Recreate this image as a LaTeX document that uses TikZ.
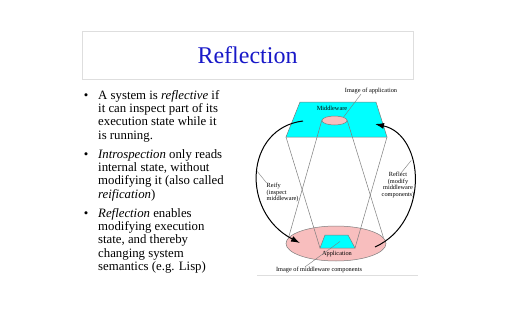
\documentclass[tikz,border=0pt]{standalone}
\usepackage{fontspec}
\setmainfont{Liberation Serif}
\usetikzlibrary{arrows.meta,shapes.geometric,calc}

\definecolor{titleblue}{RGB}{25,25,200}
\definecolor{mwcyan}{RGB}{0,255,255}
\definecolor{apppink}{RGB}{248,190,190}
\definecolor{edgegray}{RGB}{125,125,125}
\definecolor{framegray}{RGB}{222,222,222}

\begin{document}
\begin{tikzpicture}[x=1pt,y=-1pt,
  bodyline/.style={anchor=base west, inner sep=0pt, font=\fontsize{12.8}{13.3}\selectfont},
  bulletmark/.style={anchor=base, inner sep=0pt, font=\fontsize{12.8}{13.3}\selectfont},
  small/.style={inner sep=0pt, font=\fontsize{6.3}{6.6}\selectfont},
  thinedge/.style={draw=edgegray, line width=0.5pt},
  flow/.style={draw=black, line width=1pt, -{Latex[length=9pt,width=6pt]}},
  pointer/.style={draw=edgegray, line width=0.4pt},
  blob/.style={ellipse, draw=edgegray, line width=0.5pt, fill=apppink, inner sep=0pt}]

\useasboundingbox (0,0) rectangle (512,319);
\fill[white] (0,0) rectangle (512,319);

% title frame and heading
\draw[framegray, line width=0.8pt] (82,31) rectangle (413,79);
\node[inner sep=0pt, font=\fontsize{24}{28}\selectfont, text=titleblue] (title) at (247.5,55.5) {Reflection};

% bullet list
\foreach \y [count=\i] in {99,158,217}
  \node[bulletmark] (dot\i) at (86,\y) {•};
\node[bodyline] (b1a) at (98,99)    {A system is \textit{reflective} if};
\node[bodyline] (b1b) at (98,112.3) {it can inspect part of its};
\node[bodyline] (b1c) at (98,125.6) {execution state while it};
\node[bodyline] (b1d) at (98,139)   {is running.};
\node[bodyline] (b2a) at (98,158)   {\textit{Introspection} only reads};
\node[bodyline] (b2b) at (98,171.4) {internal state, without};
\node[bodyline] (b2c) at (98,184.7) {modifying it (also called};
\node[bodyline] (b2d) at (98,198)   {\textit{reification})};
\node[bodyline] (b3a) at (98,217)   {\textit{Reflection} enables};
\node[bodyline] (b3b) at (98,230.4) {modifying execution};
\node[bodyline] (b3c) at (98,243.7) {state, and thereby};
\node[bodyline] (b3d) at (98,257)   {changing system};
\node[bodyline] (b3e) at (98,270.4) {semantics (e.g. Lisp)};

% middleware plane (top) and its image inside the application (bottom)
\coordinate (mwTL) at (300,102);
\coordinate (mwTR) at (376,102);
\coordinate (mwBR) at (387,137);
\coordinate (mwBL) at (286,137);
\fill[mwcyan] (mwTL) -- (mwTR) -- (mwBR) -- (mwBL) -- cycle;
\draw[thinedge] (mwTL) -- (mwTR) -- (mwBR) -- (mwBL) -- cycle;

\node[blob, minimum width=100pt, minimum height=35pt] (app) at (336,243.5) {};

\coordinate (imTL) at (325,235);
\coordinate (imTR) at (348,235);
\coordinate (imBR) at (355,248);
\coordinate (imBL) at (320,248);
\fill[mwcyan] (imTL) -- (imTR) -- (imBR) -- (imBL) -- cycle;
\draw[thinedge] (imTL) -- (imTR) -- (imBR) -- (imBL) -- cycle;

\node[blob, minimum width=25pt, minimum height=9pt] (imgapp) at (334.5,120.5) {};

% projection lines between the two levels
\draw[thinedge] (mwBL) -- (imBL);
\draw[thinedge] (mwBR) -- (imBR);
\draw[thinedge] (imgapp.west) -- (app.173);
\draw[thinedge] (imgapp.east) -- (app.7);

% labels
\node[small] (mwlbl) at (332,108) {Middleware};
\node[small] (applbl) at (337,254) {Application};
\node[small] (imgapplbl) at (371,91) {Image of application};
\node[small] (imgmwlbl) at (319,270) {Image of middleware components};
\node[small, align=left, anchor=west] (reifylbl) at (266.5,192.5) {Reify\\(inspect\\middleware)};
\node[small, align=center] (reflectlbl) at (398,185) {Reflect\\(modify\\middleware\\components)};

% reify and reflect arrows
\coordinate (reifyStart) at (303,121);
\coordinate (reifyEnd) at (300,243);
\draw[flow] (reifyStart) .. controls (245,128) and (240,212) .. coordinate[pos=0.49] (reifyPt) (reifyEnd);
\coordinate (reflectStart) at (375,247);
\coordinate (reflectEnd) at (375,124);
\draw[flow] (reflectStart) .. controls (430,222) and (425,135) .. coordinate[pos=0.63] (reflectPt) (reflectEnd);

% label pointers
\draw[pointer] ($(imgapplbl.south)+(-10,0)$) -- (imgapp.north east);
\draw[pointer] ($(imgmwlbl.north)+(-14,0)$) -- ($(imTL)!0.5!(imBR)$);
\draw[pointer] (reifylbl.north west) -- (reifyPt);
\draw[pointer] ($(reflectlbl.north)+(3,1)$) -- (reflectPt);

% lower rule
\draw[framegray, line width=1.5pt] (257,275.5) -- (418,275.5);
\end{tikzpicture}
\end{document}
